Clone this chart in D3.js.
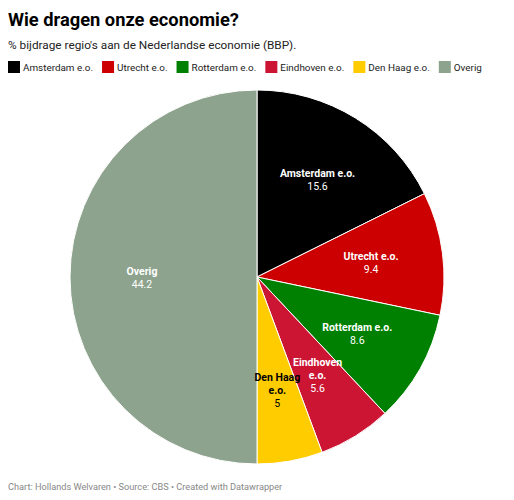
<!DOCTYPE html>
<html>
<head>
<meta charset="utf-8">
<style>
  body { margin: 0; background: #fff; font-family: Roboto, sans-serif; }
  #chart { width: 514px; height: 500px; }
</style>
</head>
<body><div id="chart"></div>
<script src="https://cdn.jsdelivr.net/npm/d3@7"></script>
<script>
const regions = ['Amsterdam e.o.', 'Utrecht e.o.', 'Rotterdam e.o.', 'Eindhoven e.o.', 'Den Haag e.o.', 'Overig'];
const shares = [15.6, 9.4, 8.6, 5.6, 5, 44.2];
const colors = ['#000000', '#cc0000', '#008000', '#cc1433', '#ffcc00', '#8da38d'];
// wrapped labels for the small slices
const labelLines = [['Amsterdam e.o.'], ['Utrecht e.o.'], ['Rotterdam e.o.'], ['Eindhoven', 'e.o.'], ['Den Haag', 'e.o.'], ['Overig']];
const labelInk = ['#fff', '#fff', '#fff', '#fff', '#000', '#fff'];

const svg = d3.select('#chart').append('svg').attr('width', 514).attr('height', 500);

svg.append('text').attr('x', 8).attr('y', 26)
  .style('font-size', '18.3px').style('font-weight', 700).text('Wie dragen onze economie?');
svg.append('text').attr('x', 8).attr('y', 49)
  .style('font-size', '11.8px').attr('fill', '#222')
  .text('% bijdrage regio\'s aan de Nederlandse economie (BBP).');

// legend, flowing left to right
let lx = 8;
regions.forEach((r, i) => {
  const g = svg.append('g').attr('transform', `translate(${lx},61)`);
  g.append('rect').attr('width', 12).attr('height', 12).attr('fill', colors[i]);
  const t = g.append('text').attr('x', 15).attr('y', 10)
    .style('font-size', '9.9px').attr('fill', '#222').text(r);
  lx += 15 + t.node().getComputedTextLength() + 9;
});

const cx = 257, cy = 277, R = 187;
const pie = d3.pie().sort(null).value(d => d);
const arcs = pie(shares);
const arc = d3.arc().innerRadius(0).outerRadius(R);
const labelArc = d3.arc().innerRadius(R * 1.23).outerRadius(0);

const g = svg.append('g').attr('transform', `translate(${cx},${cy})`);
g.selectAll('path').data(arcs).join('path')
  .attr('d', arc).attr('fill', (d, i) => colors[i])
  .attr('stroke', '#fff').attr('stroke-width', 1);

arcs.forEach((d, i) => {
  const [x, y] = labelArc.centroid(d);
  const lines = labelLines[i];
  const total = lines.length + 1;
  const t = g.append('text').attr('text-anchor', 'middle')
    .attr('fill', labelInk[i]).style('font-size', '10.5px');
  lines.forEach((ln, k) => {
    t.append('tspan').attr('x', x).attr('y', y + (k - (total - 1) / 2) * 13 + 4)
      .style('font-weight', 700).text(ln);
  });
  t.append('tspan').attr('x', x).attr('y', y + (lines.length - (total - 1) / 2) * 13 + 4)
    .text(shares[i]);
});

svg.append('text').attr('x', 8).attr('y', 490)
  .style('font-size', '9.2px').attr('fill', '#888')
  .text('Chart: Hollands Welvaren • Source: CBS • Created with Datawrapper');
</script>
</body>
</html>
